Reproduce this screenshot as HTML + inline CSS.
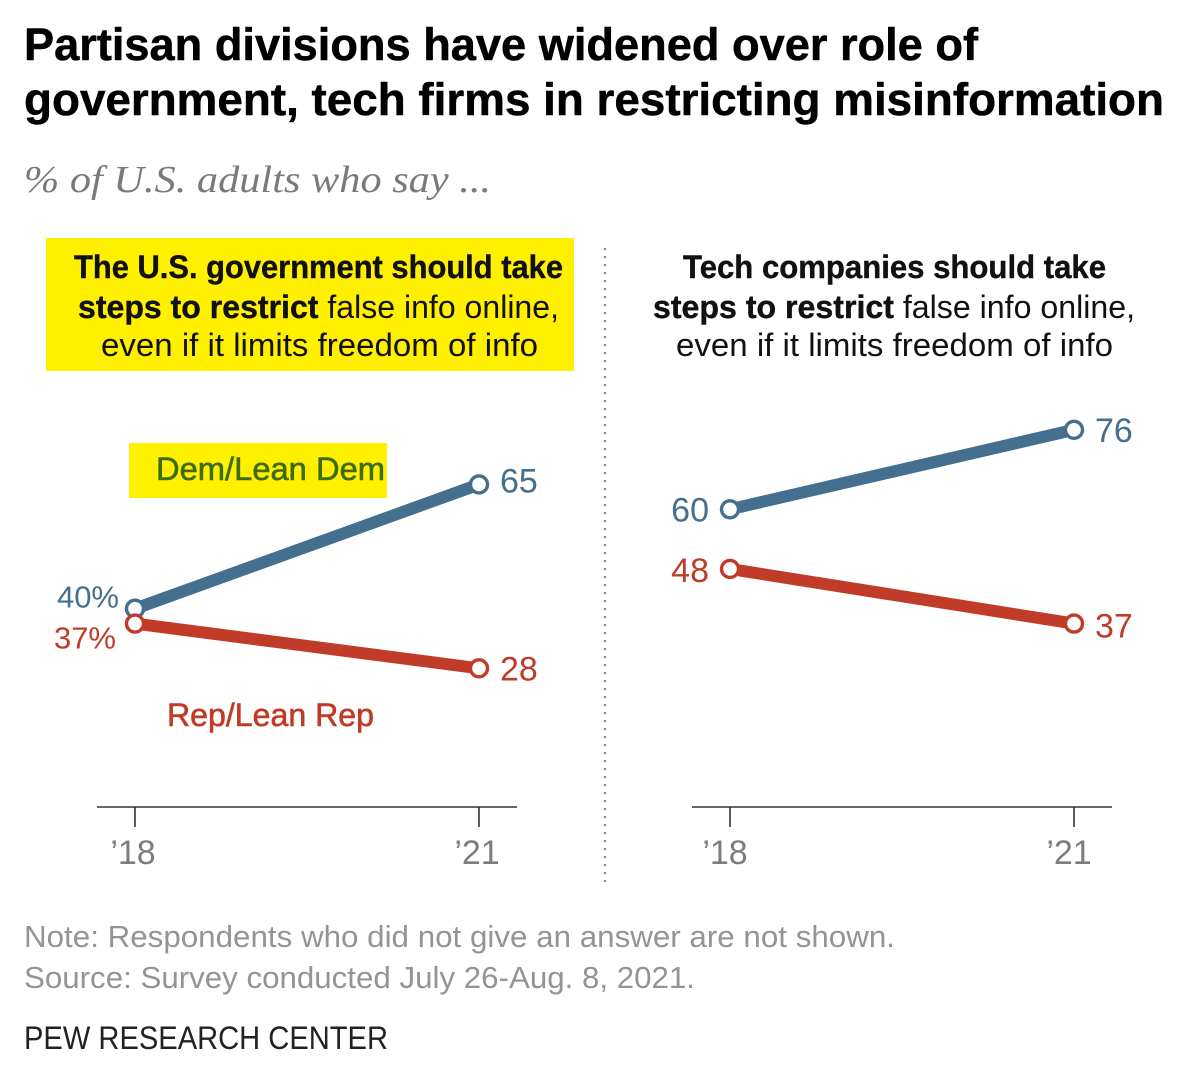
<!DOCTYPE html>
<html lang="en">
<head>
<meta charset="utf-8">
<title>Partisan divisions have widened over role of government, tech firms in restricting misinformation</title>
<style>
html,body{margin:0;padding:0;background:#fff;}
svg{display:block;font-family:"Liberation Sans",sans-serif;}
</style>
</head>
<body>
<svg id="chart" width="1200" height="1066" viewBox="0 0 1200 1066" xmlns="http://www.w3.org/2000/svg">
  <rect x="0" y="0" width="1200" height="1066" fill="#ffffff"/>
  <g font-size="45" font-weight="700" fill="#000" stroke="#000" stroke-width="0.5">
    <text x="24" y="60" textLength="954" lengthAdjust="spacingAndGlyphs">Partisan divisions have widened over role of</text>
    <text x="24" y="115" textLength="1140" lengthAdjust="spacingAndGlyphs">government, tech firms in restricting misinformation</text>
  </g>
  <text x="24" y="192" font-family="'Liberation Serif',serif" font-style="italic" font-size="38" fill="#7a7a7a" textLength="467" lengthAdjust="spacingAndGlyphs">% of U.S. adults who say ...</text>

  <rect x="46" y="238" width="528" height="133" fill="#fff000"/>
  <g font-size="32" fill="#111">
    <text x="74" y="278" font-weight="700" stroke="#111" stroke-width="0.4" textLength="489" lengthAdjust="spacingAndGlyphs">The U.S. government should take</text>
    <text x="78" y="318" textLength="481" lengthAdjust="spacingAndGlyphs"><tspan font-weight="700" stroke="#111" stroke-width="0.4">steps to restrict</tspan> false info online,</text>
    <text x="101" y="356" textLength="437" lengthAdjust="spacingAndGlyphs">even if it limits freedom of info</text>
  </g>
  <g font-size="32" fill="#111">
    <text x="683" y="278" font-weight="700" stroke="#111" stroke-width="0.4" textLength="423" lengthAdjust="spacingAndGlyphs">Tech companies should take</text>
    <text x="653" y="318" textLength="482" lengthAdjust="spacingAndGlyphs"><tspan font-weight="700" stroke="#111" stroke-width="0.4">steps to restrict</tspan> false info online,</text>
    <text x="676" y="356" textLength="437" lengthAdjust="spacingAndGlyphs">even if it limits freedom of info</text>
  </g>

  <line x1="605" y1="248" x2="605" y2="882" stroke="#8a8a8a" stroke-width="2.2" stroke-dasharray="2.2 5.8"/>

  <rect x="129" y="443" width="258" height="55" fill="#fff000"/>
  <text x="156" y="480" font-size="32" fill="#3f6b10" stroke="#3f6b10" stroke-width="0.6" textLength="229" lengthAdjust="spacingAndGlyphs">Dem/Lean Dem</text>
  <text x="167" y="726" font-size="32" fill="#bf3b27" stroke="#bf3b27" stroke-width="0.6" textLength="207" lengthAdjust="spacingAndGlyphs">Rep/Lean Rep</text>

  <g id="plot"></g>

  <g>
    <text x="24" y="947" font-size="31" fill="#949494" textLength="871" lengthAdjust="spacingAndGlyphs">Note: Respondents who did not give an answer are not shown.</text>
    <text x="24" y="988" font-size="31" fill="#949494" textLength="671" lengthAdjust="spacingAndGlyphs">Source: Survey conducted July 26-Aug. 8, 2021.</text>
    <text x="24" y="1049" font-size="32" fill="#222" textLength="364" lengthAdjust="spacingAndGlyphs">PEW RESEARCH CENTER</text>
  </g>
</svg>
<script>
const categories = ["'18", "'21"];
const tickLabels = ["\u201918", "\u201921"];
const govDem = [40, 65];
const govRep = [37, 28];
const techDem = [60, 76];
const techRep = [48, 37];
const govDemLabels = ["40%", "65"];
const govRepLabels = ["37%", "28"];
const techDemLabels = ["60", "76"];
const techRepLabels = ["48", "37"];

const NS = 'http://www.w3.org/2000/svg';
const plot = document.getElementById('plot');
const DEM = '#456f8e';
const REP = '#c13c28';
const GREY = '#7d7d7d';

// shared vertical axis: value 0 sits on the baseline
function yScale(v) { return 807.5 - 4.97 * v; }
function xScale(panelLeft, i) { return panelLeft + 344 * i / (categories.length - 1); }

function make(tag, attrs, parent) {
  const el = document.createElementNS(NS, tag);
  for (const k in attrs) el.setAttribute(k, attrs[k]);
  parent.appendChild(el);
  return el;
}

function drawAxis(panelLeft, tickNudge, prefix, parent) {
  const axis = make('line', {x1: panelLeft - 38, x2: panelLeft + 382, y1: 807, y2: 807, stroke: '#333', 'stroke-width': 1.6}, parent);
  
  
  categories.forEach(function (c, i) {
    const x = xScale(panelLeft, i);
    const tick = make('line', {x1: x, x2: x, y1: 807, y2: 827, stroke: '#333', 'stroke-width': 1.6}, parent);
    
    
    const label = make('text', {x: x + tickNudge, y: 864, 'text-anchor': 'middle', 'font-size': 34, fill: GREY}, parent);
    
    
    label.textContent = tickLabels[i];
  });
}

// startOffset / endOffset place the printed value relative to its point: [dx, dy, fontSize]
function drawSeries(panelLeft, values, labels, color, prefix, startOffset, endOffset) {
  const g = make('g', {}, plot);
  
  
  const pts = values.map(function (v, i) { return [xScale(panelLeft, i), yScale(v)]; });
  const line = make('line', {x1: pts[0][0], y1: pts[0][1], x2: pts[1][0], y2: pts[1][1], stroke: color, 'stroke-width': 12}, g);
  
  
  pts.forEach(function (p, i) {
    const dot = make('circle', {cx: p[0], cy: p[1], r: 8.5, fill: '#fff', stroke: color, 'stroke-width': 3.4}, g);
    
    
    const off = i === 0 ? startOffset : endOffset;
    const label = make('text', {
      x: p[0] + off[0],
      y: p[1] + off[1],
      'text-anchor': i === 0 ? 'end' : 'start',
      'font-size': off[2],
      fill: color
    }, g);
    
    
    label.textContent = labels[i];
  });
}

drawAxis(135, -2, 'left-panel', plot);
drawAxis(730, -5, 'right-panel', plot);
drawSeries(135, govDem, govDemLabels, DEM, 'gov-dem', [-16, -1, 31], [21, 8, 34]);
drawSeries(135, govRep, govRepLabels, REP, 'gov-rep', [-19, 25, 31], [21, 12, 34]);
drawSeries(730, techDem, techDemLabels, DEM, 'tech-dem', [-21, 12, 34], [21, 12, 34]);
drawSeries(730, techRep, techRepLabels, REP, 'tech-rep', [-21, 13, 34], [21, 14, 34]);
</script>
</body>
</html>
